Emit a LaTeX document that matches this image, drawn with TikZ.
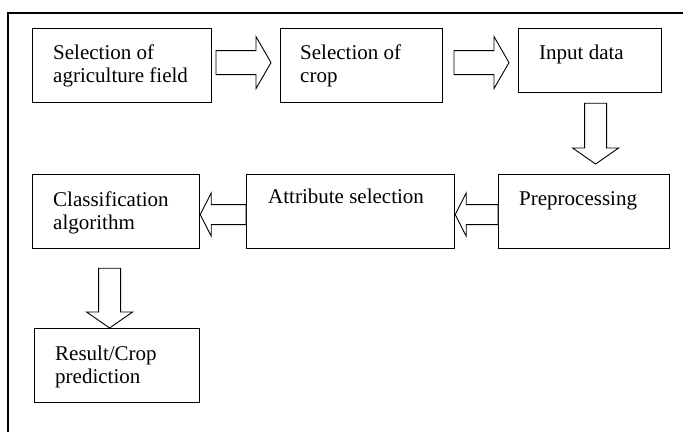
\documentclass[tikz,border=0pt]{standalone}
\usepackage{fontspec}
\setmainfont{Liberation Serif}
\usetikzlibrary{calc}

\begin{document}
\begin{tikzpicture}
[x=1pt,y=-1pt,
stage/.style={draw,line width=1.2pt,inner sep=0pt,anchor=north west},
caption/.style={anchor=base west,align=left,inner sep=0pt,font=\fontsize{21}{23}\selectfont},
hollow/.style={draw,line width=0.9pt,line join=miter,fill=white},
frame/.style={draw,line width=1.2pt}]
\useasboundingbox (0,0) rectangle (683,432);
\draw[frame] (683,13) -- (8,13) -- (8,432);

% first row
\node[stage,minimum width=179,minimum height=74] (field) at (32,28) {};
\node[stage,minimum width=162,minimum height=74] (crop) at (280,28) {};
\node[stage,minimum width=143,minimum height=64] (input) at (518,28) {};
% second row
\node[stage,minimum width=167,minimum height=74] (classif) at (32,174) {};
\node[stage,minimum width=208,minimum height=74] (attr) at (246,174) {};
\node[stage,minimum width=171,minimum height=74] (prep) at (498,174) {};
% last row
\node[stage,minimum width=165,minimum height=74] (result) at (34,328) {};

% texts (base is the last line)
\node[caption] (fieldtxt) at ($(field.north west)+(21,54)$) {Selection of\\agriculture field};
\node[caption] (croptxt) at ($(crop.north west)+(20,54)$) {Selection of\\crop};
\node[caption] (inputtxt) at ($(input.north west)+(21,31)$) {Input data};
\node[caption] (classiftxt) at ($(classif.north west)+(21,55)$) {Classification\\algorithm};
\node[caption] (attrtxt) at ($(attr.north west)+(22,29)$) {Attribute selection};
\node[caption] (preptxt) at ($(prep.north west)+(21,31)$) {Preprocessing};
\node[caption] (resulttxt) at ($(result.north west)+(21,55)$) {Result/Crop\\prediction};

% block arrows
\foreach \src/\dst in {field/crop,crop/input}
{
	\draw[hollow] let \p1=(\src.east), \p2=(\dst.west) in
	({\x2-64pt},{\y1+15pt}) -- ({\x2-24pt},{\y1+15pt}) -- ({\x2-24pt},{\y1+29pt})
	-- ({\x2-9pt},{\y1+3pt}) -- ({\x2-24pt},{\y1-23pt}) -- ({\x2-24pt},{\y1-9pt})
	-- ({\x2-64pt},{\y1-9pt}) -- cycle;
}
\foreach \src/\dst in {prep/attr,attr/classif}
{
	\draw[hollow] let \p1=(\src.west), \p2=(\dst.east) in
	(\x1,{\y1+7pt}) -- ({\x2+11pt},{\y1+7pt}) -- ({\x2+11pt},{\y1+18.5pt})
	-- (\x2,{\y1-3pt}) -- ({\x2+11pt},{\y1-24.5pt}) -- ({\x2+11pt},{\y1-13pt})
	-- (\x1,{\y1-13pt}) -- cycle;
}
\foreach \src/\dst/\dx/\top/\gap in {input/prep/5.5/10/10,classif/result/-6.5/19/0}
{
	\draw[hollow] let \p1=(\src.south), \p2=(\dst.north) in
	({\x1+\dx pt-11pt},{\y1-\top pt}) -- ({\x1+\dx pt+11pt},{\y1-\top pt})
	-- ({\x1+\dx pt+11pt},{\y2+\gap pt+16pt}) -- ({\x1+\dx pt+23pt},{\y2+\gap pt+16pt})
	-- ({\x1+\dx pt},{\y2+\gap pt}) -- ({\x1+\dx pt-23pt},{\y2+\gap pt+16pt})
	-- ({\x1+\dx pt-11pt},{\y2+\gap pt+16pt}) -- cycle;
}
\end{tikzpicture}
\end{document}
